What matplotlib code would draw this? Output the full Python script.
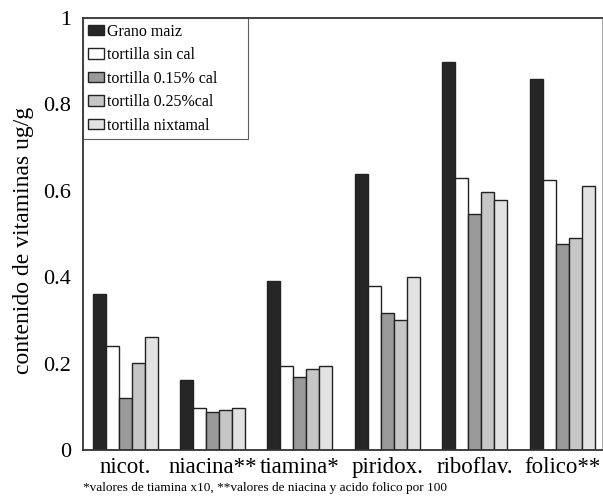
import matplotlib
matplotlib.use("Agg")
import matplotlib.pyplot as plt
import numpy as np

categories = ["nicot.", "niacina**", "tiamina*", "piridox.", "riboflav.", "folico**"]
series_names = ["Grano maiz", "tortilla sin cal", "tortilla 0.15% cal",
                "tortilla 0.25%cal", "tortilla nixtamal"]
grano = [0.361, 0.161, 0.391, 0.640, 0.899, 0.858]
sin_cal = [0.241, 0.097, 0.194, 0.380, 0.630, 0.624]
cal_015 = [0.120, 0.088, 0.168, 0.318, 0.546, 0.478]
cal_025 = [0.201, 0.092, 0.187, 0.301, 0.598, 0.490]
nixtamal = [0.262, 0.097, 0.194, 0.400, 0.578, 0.612]
yticks = [0, 0.2, 0.4, 0.6, 0.8, 1]
ytick_labels = ["0", "0.2", "0.4", "0.6", "0.8", "1"]

series = [grano, sin_cal, cal_015, cal_025, nixtamal]
colors = ["#262626", "#ffffff", "#9a9a9a", "#c6c6c6", "#e2e2e2"]

plt.rcParams['font.family'] = ['Liberation Serif', 'DejaVu Serif']

fig = plt.figure(figsize=(6.03, 4.97), dpi=100)
ax = fig.add_axes([0.137, 0.0946, 0.862, 0.869])

x = np.arange(len(categories))
w = 0.149
for k, (vals, name, c) in enumerate(zip(series, series_names, colors)):
    ax.bar(x + (k - 2) * w, vals, width=w, color=c, edgecolor="#222222",
           linewidth=1.0, label=name)

ax.set_xlim(-0.486, 5.46)
ax.set_ylim(0, 1)
ax.set_yticks(yticks)
ax.set_yticklabels(ytick_labels, fontsize=16)
ax.set_xticks(x)
ax.set_xticklabels(categories, fontsize=16.5)
ax.tick_params(axis='both', length=0)
ax.tick_params(axis='y', pad=8)
ax.tick_params(axis='x', pad=5)
for s in ['left', 'bottom', 'top']:
    ax.spines[s].set_linewidth(1.3)
    ax.spines[s].set_color('#333333')
ax.spines['right'].set_linewidth(0.6)
ax.spines['right'].set_color('#999999')

ax.set_ylabel("contenido de vitaminas ug/g", fontsize=17)
ax.yaxis.set_label_coords(-0.094, 0.486)

leg = ax.legend(loc="upper left", bbox_to_anchor=(0.0, 0.5, 0.318, 0.5),
                mode="expand", fontsize=11.5,
                frameon=True, fancybox=False, borderaxespad=0.0,
                handlelength=1.0, handleheight=0.65, handletextpad=0.15,
                labelspacing=0.47, borderpad=0.35)
leg.get_frame().set_edgecolor("#333333")
leg.get_frame().set_linewidth(0.8)

fig.text(0.137, 0.006, "*valores de tiamina x10, **valores de niacina y acido folico por 100",
         fontsize=9.5, ha="left", va="bottom")

fig.savefig("out.png", dpi=100)
